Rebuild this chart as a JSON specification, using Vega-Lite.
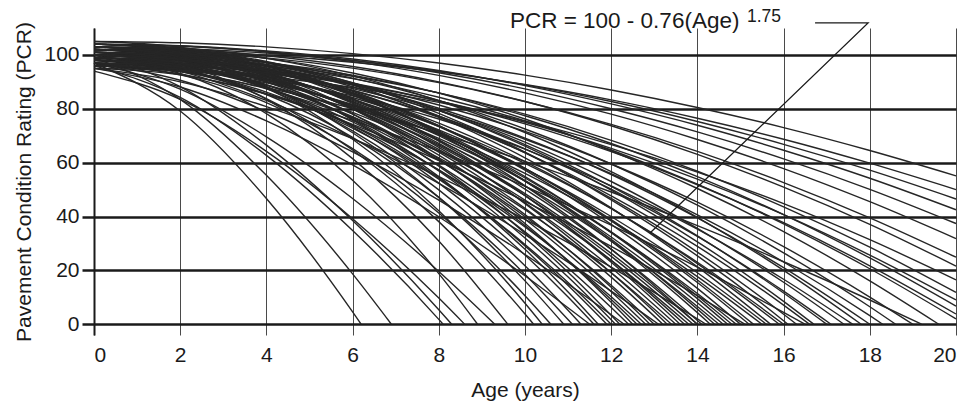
{
  "$schema": "https://vega.github.io/schema/vega-lite/v6.json",
  "width": 862,
  "height": 307,
  "autosize": {"type": "none"},
  "padding": {"left": 94, "top": 28, "right": 22, "bottom": 72},
  "background": "white",
  "config": {
    "view": {"stroke": null},
    "font": "Liberation Sans",
    "axis": {"labelFont": "Liberation Sans", "titleFont": "Liberation Sans", "labelColor": "#1a1a1a", "titleColor": "#1a1a1a", "titleFontWeight": "normal"}
  },
  "datasets": {
    "curves": [
      {"c":1,"t":0,"p":97},{"c":1,"t":2,"p":79.2},{"c":1,"t":4,"p":46.7},{"c":1,"t":6,"p":4.6},{"c":1,"t":6.2,"p":0},
      {"c":2,"t":0,"p":99},{"c":2,"t":2,"p":83.5},{"c":2,"t":4,"p":55.3},{"c":2,"t":6,"p":18.7},{"c":2,"t":6.9,"p":0},
      {"c":3,"t":0,"p":96},{"c":3,"t":2,"p":84.2},{"c":3,"t":4,"p":62.7},{"c":3,"t":6,"p":34.8},{"c":3,"t":8,"p":1.8},{"c":3,"t":8.1,"p":0},
      {"c":4,"t":0,"p":100},{"c":4,"t":2,"p":88.2},{"c":4,"t":4,"p":66.5},{"c":4,"t":6,"p":38.5},{"c":4,"t":8,"p":5.4},{"c":4,"t":8.3,"p":0},
      {"c":5,"t":0,"p":94},{"c":5,"t":2,"p":83.5},{"c":5,"t":4,"p":64.2},{"c":5,"t":6,"p":39.2},{"c":5,"t":8,"p":9.7},{"c":5,"t":8.6,"p":0},
      {"c":6,"t":0,"p":98},{"c":6,"t":2,"p":93.1},{"c":6,"t":4,"p":78.2},{"c":6,"t":6,"p":53.5},{"c":6,"t":8,"p":18.8},{"c":6,"t":8.9,"p":0},
      {"c":7,"t":0,"p":97},{"c":7,"t":2,"p":87.3},{"c":7,"t":4,"p":69.6},{"c":7,"t":6,"p":46.7},{"c":7,"t":8,"p":19.6},{"c":7,"t":9.3,"p":0},
      {"c":8,"t":0,"p":101},{"c":8,"t":2,"p":96.6},{"c":8,"t":4,"p":83.5},{"c":8,"t":6,"p":61.5},{"c":8,"t":8,"p":30.9},{"c":8,"t":9.6,"p":0},
      {"c":9,"t":0,"p":99},{"c":9,"t":2,"p":95.2},{"c":9,"t":4,"p":83.8},{"c":9,"t":6,"p":64.7},{"c":9,"t":8,"p":38.1},{"c":9,"t":10,"p":3.8},{"c":9,"t":10.2,"p":0},
      {"c":10,"t":0,"p":96},{"c":10,"t":2,"p":92.6},{"c":10,"t":4,"p":82.3},{"c":10,"t":6,"p":65.2},{"c":10,"t":8,"p":41.3},{"c":10,"t":10,"p":10.6},{"c":10,"t":10.6,"p":0},
      {"c":11,"t":0,"p":102},{"c":11,"t":2,"p":98.6},{"c":11,"t":4,"p":88.3},{"c":11,"t":6,"p":71.1},{"c":11,"t":8,"p":47.1},{"c":11,"t":10,"p":16.1},{"c":11,"t":10.9,"p":0},
      {"c":12,"t":0,"p":98},{"c":12,"t":2,"p":94.8},{"c":12,"t":4,"p":85.3},{"c":12,"t":6,"p":69.4},{"c":12,"t":8,"p":47.1},{"c":12,"t":10,"p":18.5},{"c":12,"t":11.1,"p":0},
      {"c":13,"t":0,"p":100},{"c":13,"t":2,"p":96.9},{"c":13,"t":4,"p":87.5},{"c":13,"t":6,"p":71.8},{"c":13,"t":8,"p":49.9},{"c":13,"t":10,"p":21.7},{"c":13,"t":11.3,"p":0},
      {"c":14,"t":0,"p":95},{"c":14,"t":2,"p":88.1},{"c":14,"t":4,"p":75.5},{"c":14,"t":6,"p":59.2},{"c":14,"t":8,"p":39.9},{"c":14,"t":10,"p":18},{"c":14,"t":11.5,"p":0},
      {"c":15,"t":0,"p":103},{"c":15,"t":2,"p":100},{"c":15,"t":4,"p":91},{"c":15,"t":6,"p":75.9},{"c":15,"t":8,"p":54.8},{"c":15,"t":10,"p":27.8},{"c":15,"t":11,"p":12},{"c":15,"t":11.7,"p":0},
      {"c":16,"t":0,"p":99},{"c":16,"t":2,"p":96.2},{"c":16,"t":4,"p":87.8},{"c":16,"t":6,"p":73.8},{"c":16,"t":8,"p":54.3},{"c":16,"t":10,"p":29.1},{"c":16,"t":11,"p":14.4},{"c":16,"t":11.9,"p":0},
      {"c":17,"t":0,"p":97},{"c":17,"t":2,"p":94.3},{"c":17,"t":4,"p":86.2},{"c":17,"t":6,"p":72.8},{"c":17,"t":8,"p":53.9},{"c":17,"t":10,"p":29.6},{"c":17,"t":11,"p":15.5},{"c":17,"t":12,"p":0},
      {"c":18,"t":0,"p":101},{"c":18,"t":2,"p":98.2},{"c":18,"t":4,"p":90},{"c":18,"t":6,"p":76.2},{"c":18,"t":8,"p":56.9},{"c":18,"t":10,"p":32},{"c":18,"t":11,"p":17.5},{"c":18,"t":12.1,"p":0},
      {"c":19,"t":0,"p":97},{"c":19,"t":2,"p":90.6},{"c":19,"t":4,"p":79},{"c":19,"t":6,"p":64},{"c":19,"t":8,"p":46.1},{"c":19,"t":10,"p":25.9},{"c":19,"t":12,"p":3.5},{"c":19,"t":12.3,"p":0},
      {"c":20,"t":0,"p":104},{"c":20,"t":2,"p":101.3},{"c":20,"t":4,"p":93.4},{"c":20,"t":6,"p":80},{"c":20,"t":8,"p":61.4},{"c":20,"t":10,"p":37.4},{"c":20,"t":12,"p":8.2},{"c":20,"t":12.5,"p":0},
      {"c":21,"t":0,"p":99},{"c":21,"t":2,"p":96.5},{"c":21,"t":4,"p":89},{"c":21,"t":6,"p":76.5},{"c":21,"t":8,"p":59.1},{"c":21,"t":10,"p":36.6},{"c":21,"t":12,"p":9.2},{"c":21,"t":12.6,"p":0},
      {"c":22,"t":0,"p":95},{"c":22,"t":2,"p":92.6},{"c":22,"t":4,"p":85.6},{"c":22,"t":6,"p":73.8},{"c":22,"t":8,"p":57.3},{"c":22,"t":10,"p":36.1},{"c":22,"t":12,"p":10.2},{"c":22,"t":12.7,"p":0},
      {"c":23,"t":0,"p":102},{"c":23,"t":2,"p":99.6},{"c":23,"t":4,"p":92.2},{"c":23,"t":6,"p":79.9},{"c":23,"t":8,"p":62.8},{"c":23,"t":10,"p":40.7},{"c":23,"t":12,"p":13.7},{"c":23,"t":12.9,"p":0},
      {"c":24,"t":0,"p":98},{"c":24,"t":2,"p":95.7},{"c":24,"t":4,"p":88.7},{"c":24,"t":6,"p":77.1},{"c":24,"t":8,"p":60.9},{"c":24,"t":10,"p":40},{"c":24,"t":12,"p":14.5},{"c":24,"t":13,"p":0},
      {"c":25,"t":0,"p":100},{"c":25,"t":2,"p":94},{"c":25,"t":4,"p":83.1},{"c":25,"t":6,"p":69},{"c":25,"t":8,"p":52.3},{"c":25,"t":10,"p":33.3},{"c":25,"t":12,"p":12.3},{"c":25,"t":13.1,"p":0},
      {"c":26,"t":0,"p":103},{"c":26,"t":2,"p":100.7},{"c":26,"t":4,"p":93.7},{"c":26,"t":6,"p":82},{"c":26,"t":8,"p":65.7},{"c":26,"t":10,"p":44.8},{"c":26,"t":12,"p":19.1},{"c":26,"t":13,"p":4.6},{"c":26,"t":13.3,"p":0},
      {"c":27,"t":0,"p":96},{"c":27,"t":2,"p":93.9},{"c":27,"t":4,"p":87.4},{"c":27,"t":6,"p":76.8},{"c":27,"t":8,"p":61.8},{"c":27,"t":10,"p":42.5},{"c":27,"t":12,"p":19.1},{"c":27,"t":13.4,"p":0},
      {"c":28,"t":0,"p":100},{"c":28,"t":2,"p":97.8},{"c":28,"t":4,"p":91.2},{"c":28,"t":6,"p":80.2},{"c":28,"t":8,"p":64.9},{"c":28,"t":10,"p":45.1},{"c":28,"t":12,"p":21},{"c":28,"t":13.5,"p":0},
      {"c":29,"t":0,"p":102},{"c":29,"t":2,"p":99.8},{"c":29,"t":4,"p":93.3},{"c":29,"t":6,"p":82.4},{"c":29,"t":8,"p":67.2},{"c":29,"t":10,"p":47.7},{"c":29,"t":12,"p":23.7},{"c":29,"t":13.7,"p":0},
      {"c":30,"t":0,"p":97},{"c":30,"t":2,"p":95},{"c":30,"t":4,"p":88.9},{"c":30,"t":6,"p":78.7},{"c":30,"t":8,"p":64.4},{"c":30,"t":10,"p":46.1},{"c":30,"t":12,"p":23.7},{"c":30,"t":13.8,"p":0},
      {"c":31,"t":0,"p":99},{"c":31,"t":2,"p":97},{"c":31,"t":4,"p":90.8},{"c":31,"t":6,"p":80.6},{"c":31,"t":8,"p":66.2},{"c":31,"t":10,"p":47.8},{"c":31,"t":12,"p":25.2},{"c":31,"t":13.9,"p":0},
      {"c":32,"t":0,"p":101},{"c":32,"t":2,"p":99},{"c":32,"t":4,"p":92.9},{"c":32,"t":6,"p":82.7},{"c":32,"t":8,"p":68.5},{"c":32,"t":10,"p":50.2},{"c":32,"t":12,"p":27.8},{"c":32,"t":14,"p":1.4},{"c":32,"t":14.1,"p":0},
      {"c":33,"t":0,"p":95},{"c":33,"t":2,"p":90},{"c":33,"t":4,"p":80.8},{"c":33,"t":6,"p":68.9},{"c":33,"t":8,"p":54.8},{"c":33,"t":10,"p":38.9},{"c":33,"t":12,"p":21.2},{"c":33,"t":14,"p":2},{"c":33,"t":14.2,"p":0},
      {"c":34,"t":0,"p":104},{"c":34,"t":2,"p":102},{"c":34,"t":4,"p":95.9},{"c":34,"t":6,"p":85.7},{"c":34,"t":8,"p":71.4},{"c":34,"t":10,"p":53.1},{"c":34,"t":12,"p":30.8},{"c":34,"t":14,"p":4.3},{"c":34,"t":14.3,"p":0},
      {"c":35,"t":0,"p":98},{"c":35,"t":2,"p":96.1},{"c":35,"t":4,"p":90.5},{"c":35,"t":6,"p":81.2},{"c":35,"t":8,"p":68.2},{"c":35,"t":10,"p":51.4},{"c":35,"t":12,"p":30.9},{"c":35,"t":14,"p":6.6},{"c":35,"t":14.5,"p":0},
      {"c":36,"t":0,"p":100},{"c":36,"t":2,"p":98.1},{"c":36,"t":4,"p":92.5},{"c":36,"t":6,"p":83.1},{"c":36,"t":8,"p":70},{"c":36,"t":10,"p":53.1},{"c":36,"t":12,"p":32.4},{"c":36,"t":14,"p":8},{"c":36,"t":14.6,"p":0},
      {"c":37,"t":0,"p":102},{"c":37,"t":2,"p":100.1},{"c":37,"t":4,"p":94.5},{"c":37,"t":6,"p":85},{"c":37,"t":8,"p":71.8},{"c":37,"t":10,"p":54.8},{"c":37,"t":12,"p":34},{"c":37,"t":14,"p":9.5},{"c":37,"t":14.7,"p":0},
      {"c":38,"t":0,"p":97},{"c":38,"t":2,"p":95.3},{"c":38,"t":4,"p":90},{"c":38,"t":6,"p":81.3},{"c":38,"t":8,"p":69},{"c":38,"t":10,"p":53.3},{"c":38,"t":12,"p":34.1},{"c":38,"t":14,"p":11.4},{"c":38,"t":14.9,"p":0},
      {"c":39,"t":0,"p":103},{"c":39,"t":2,"p":101.2},{"c":39,"t":4,"p":95.7},{"c":39,"t":6,"p":86.5},{"c":39,"t":8,"p":73.7},{"c":39,"t":10,"p":57.2},{"c":39,"t":12,"p":37.1},{"c":39,"t":14,"p":13.3},{"c":39,"t":15,"p":0},
      {"c":40,"t":0,"p":99},{"c":40,"t":2,"p":94.2},{"c":40,"t":4,"p":85.5},{"c":40,"t":6,"p":74.2},{"c":40,"t":8,"p":60.8},{"c":40,"t":10,"p":45.6},{"c":40,"t":12,"p":28.9},{"c":40,"t":14,"p":10.6},{"c":40,"t":15.1,"p":0},
      {"c":41,"t":0,"p":101},{"c":41,"t":2,"p":99.3},{"c":41,"t":4,"p":94.1},{"c":41,"t":6,"p":85.5},{"c":41,"t":8,"p":73.4},{"c":41,"t":10,"p":57.9},{"c":41,"t":12,"p":38.9},{"c":41,"t":14,"p":16.4},{"c":41,"t":15.3,"p":0},
      {"c":42,"t":0,"p":96},{"c":42,"t":2,"p":94.4},{"c":42,"t":4,"p":89.6},{"c":42,"t":6,"p":81.6},{"c":42,"t":8,"p":70.4},{"c":42,"t":10,"p":56},{"c":42,"t":12,"p":38.5},{"c":42,"t":14,"p":17.7},{"c":42,"t":15.5,"p":0},
      {"c":43,"t":0,"p":104},{"c":43,"t":2,"p":102.3},{"c":43,"t":4,"p":97.2},{"c":43,"t":6,"p":88.8},{"c":43,"t":8,"p":77},{"c":43,"t":10,"p":61.8},{"c":43,"t":12,"p":43.2},{"c":43,"t":14,"p":21.3},{"c":43,"t":15.7,"p":0},
      {"c":44,"t":0,"p":100},{"c":44,"t":2,"p":98.4},{"c":44,"t":4,"p":93.7},{"c":44,"t":6,"p":85.8},{"c":44,"t":8,"p":74.7},{"c":44,"t":10,"p":60.4},{"c":44,"t":12,"p":43},{"c":44,"t":14,"p":22.5},{"c":44,"t":15.9,"p":0},
      {"c":45,"t":0,"p":98},{"c":45,"t":2,"p":96.5},{"c":45,"t":4,"p":91.9},{"c":45,"t":6,"p":84.2},{"c":45,"t":8,"p":73.5},{"c":45,"t":10,"p":59.7},{"c":45,"t":12,"p":42.9},{"c":45,"t":14,"p":23},{"c":45,"t":16,"p":0},
      {"c":46,"t":0,"p":102},{"c":46,"t":2,"p":100.5},{"c":46,"t":4,"p":95.9},{"c":46,"t":6,"p":88.2},{"c":46,"t":8,"p":77.4},{"c":46,"t":10,"p":63.6},{"c":46,"t":12,"p":46.7},{"c":46,"t":14,"p":26.8},{"c":46,"t":16,"p":3.7},{"c":46,"t":16.3,"p":0},
      {"c":47,"t":0,"p":97},{"c":47,"t":2,"p":92.9},{"c":47,"t":4,"p":85.4},{"c":47,"t":6,"p":75.7},{"c":47,"t":8,"p":64.3},{"c":47,"t":10,"p":51.2},{"c":47,"t":12,"p":36.8},{"c":47,"t":14,"p":21.2},{"c":47,"t":16,"p":4.4},{"c":47,"t":16.5,"p":0},
      {"c":48,"t":0,"p":103},{"c":48,"t":2,"p":101.5},{"c":48,"t":4,"p":97.1},{"c":48,"t":6,"p":89.7},{"c":48,"t":8,"p":79.4},{"c":48,"t":10,"p":66.1},{"c":48,"t":12,"p":49.8},{"c":48,"t":14,"p":30.6},{"c":48,"t":16,"p":8.5},{"c":48,"t":16.7,"p":0},
      {"c":49,"t":0,"p":99},{"c":49,"t":2,"p":97.6},{"c":49,"t":4,"p":93.6},{"c":49,"t":6,"p":86.8},{"c":49,"t":8,"p":77.3},{"c":49,"t":10,"p":65.1},{"c":49,"t":12,"p":50.2},{"c":49,"t":14,"p":32.6},{"c":49,"t":16,"p":12.3},{"c":49,"t":17.1,"p":0},
      {"c":50,"t":0,"p":101},{"c":50,"t":2,"p":99.7},{"c":50,"t":4,"p":95.7},{"c":50,"t":6,"p":89},{"c":50,"t":8,"p":79.6},{"c":50,"t":10,"p":67.6},{"c":50,"t":12,"p":53},{"c":50,"t":14,"p":35.6},{"c":50,"t":16,"p":15.6},{"c":50,"t":17.4,"p":0},
      {"c":51,"t":0,"p":96},{"c":51,"t":2,"p":94.8},{"c":51,"t":4,"p":91},{"c":51,"t":6,"p":84.8},{"c":51,"t":8,"p":76.2},{"c":51,"t":10,"p":65},{"c":51,"t":12,"p":51.4},{"c":51,"t":14,"p":35.3},{"c":51,"t":16,"p":16.7},{"c":51,"t":17.6,"p":0},
      {"c":52,"t":0,"p":104},{"c":52,"t":2,"p":102.7},{"c":52,"t":4,"p":98.7},{"c":52,"t":6,"p":92.2},{"c":52,"t":8,"p":83},{"c":52,"t":10,"p":71.2},{"c":52,"t":12,"p":56.7},{"c":52,"t":14,"p":39.7},{"c":52,"t":16,"p":20},{"c":52,"t":17.8,"p":0},
      {"c":53,"t":0,"p":100},{"c":53,"t":2,"p":98.8},{"c":53,"t":4,"p":95.1},{"c":53,"t":6,"p":88.9},{"c":53,"t":8,"p":80.2},{"c":53,"t":10,"p":69.1},{"c":53,"t":12,"p":55.6},{"c":53,"t":14,"p":39.5},{"c":53,"t":16,"p":21},{"c":53,"t":18,"p":0},
      {"c":54,"t":0,"p":98},{"c":54,"t":2,"p":96.8},{"c":54,"t":4,"p":93.3},{"c":54,"t":6,"p":87.5},{"c":54,"t":8,"p":79.3},{"c":54,"t":10,"p":68.7},{"c":54,"t":12,"p":55.9},{"c":54,"t":14,"p":40.6},{"c":54,"t":16,"p":23.1},{"c":54,"t":18,"p":3.2},{"c":54,"t":18.3,"p":0},
      {"c":55,"t":0,"p":102},{"c":55,"t":2,"p":100.8},{"c":55,"t":4,"p":97.3},{"c":55,"t":6,"p":91.4},{"c":55,"t":8,"p":83.1},{"c":55,"t":10,"p":72.5},{"c":55,"t":12,"p":59.5},{"c":55,"t":14,"p":44.2},{"c":55,"t":16,"p":26.5},{"c":55,"t":18,"p":6.5},{"c":55,"t":18.6,"p":0},
      {"c":56,"t":0,"p":99},{"c":56,"t":2,"p":97.9},{"c":56,"t":4,"p":94.6},{"c":56,"t":6,"p":89.1},{"c":56,"t":8,"p":81.4},{"c":56,"t":10,"p":71.6},{"c":56,"t":12,"p":59.5},{"c":56,"t":14,"p":45.3},{"c":56,"t":16,"p":28.8},{"c":56,"t":18,"p":10.1},{"c":56,"t":19,"p":0},
      {"c":57,"t":0,"p":97},{"c":57,"t":2,"p":93.7},{"c":57,"t":4,"p":87.8},{"c":57,"t":6,"p":80.1},{"c":57,"t":8,"p":70.9},{"c":57,"t":10,"p":60.5},{"c":57,"t":12,"p":49.1},{"c":57,"t":14,"p":36.6},{"c":57,"t":16,"p":23.2},{"c":57,"t":18,"p":9},{"c":57,"t":19.2,"p":0},
      {"c":58,"t":0,"p":103},{"c":58,"t":2,"p":101.9},{"c":58,"t":4,"p":98.7},{"c":58,"t":6,"p":93.3},{"c":58,"t":8,"p":85.8},{"c":58,"t":10,"p":76.2},{"c":58,"t":12,"p":64.4},{"c":58,"t":14,"p":50.4},{"c":58,"t":16,"p":34.4},{"c":58,"t":18,"p":16.1},{"c":58,"t":19.6,"p":0},
      {"c":59,"t":0,"p":100},{"c":59,"t":2,"p":99},{"c":59,"t":4,"p":96.1},{"c":59,"t":6,"p":91.2},{"c":59,"t":8,"p":84.3},{"c":59,"t":10,"p":75.5},{"c":59,"t":12,"p":64.7},{"c":59,"t":14,"p":52},{"c":59,"t":16,"p":37.3},{"c":59,"t":18,"p":20.6},{"c":59,"t":20,"p":2},
      {"c":60,"t":0,"p":98},{"c":60,"t":2,"p":97.1},{"c":60,"t":4,"p":94.2},{"c":60,"t":6,"p":89.5},{"c":60,"t":8,"p":82.9},{"c":60,"t":10,"p":74.4},{"c":60,"t":12,"p":64.1},{"c":60,"t":14,"p":51.8},{"c":60,"t":16,"p":37.7},{"c":60,"t":18,"p":21.7},{"c":60,"t":20,"p":3.8},
      {"c":61,"t":0,"p":101},{"c":61,"t":2,"p":100.1},{"c":61,"t":4,"p":97.2},{"c":61,"t":6,"p":92.5},{"c":61,"t":8,"p":85.9},{"c":61,"t":10,"p":77.4},{"c":61,"t":12,"p":67.1},{"c":61,"t":14,"p":54.8},{"c":61,"t":16,"p":40.7},{"c":61,"t":18,"p":24.6},{"c":61,"t":20,"p":6.7},
      {"c":62,"t":0,"p":97},{"c":62,"t":2,"p":96.1},{"c":62,"t":4,"p":93.5},{"c":62,"t":6,"p":89.1},{"c":62,"t":8,"p":82.9},{"c":62,"t":10,"p":75},{"c":62,"t":12,"p":65.3},{"c":62,"t":14,"p":53.9},{"c":62,"t":16,"p":40.7},{"c":62,"t":18,"p":25.7},{"c":62,"t":20,"p":9},
      {"c":63,"t":0,"p":100},{"c":63,"t":2,"p":99.1},{"c":63,"t":4,"p":96.5},{"c":63,"t":6,"p":92.1},{"c":63,"t":8,"p":85.9},{"c":63,"t":10,"p":78},{"c":63,"t":12,"p":68.3},{"c":63,"t":14,"p":56.8},{"c":63,"t":16,"p":43.6},{"c":63,"t":18,"p":28.6},{"c":63,"t":20,"p":11.8},
      {"c":64,"t":0,"p":95},{"c":64,"t":2,"p":94.2},{"c":64,"t":4,"p":91.9},{"c":64,"t":6,"p":87.9},{"c":64,"t":8,"p":82.4},{"c":64,"t":10,"p":75.4},{"c":64,"t":12,"p":66.7},{"c":64,"t":14,"p":56.5},{"c":64,"t":16,"p":44.8},{"c":64,"t":18,"p":31.4},{"c":64,"t":20,"p":16.5},
      {"c":65,"t":0,"p":103},{"c":65,"t":2,"p":102.2},{"c":65,"t":4,"p":99.7},{"c":65,"t":6,"p":95.7},{"c":65,"t":8,"p":90},{"c":65,"t":10,"p":82.7},{"c":65,"t":12,"p":73.7},{"c":65,"t":14,"p":63.1},{"c":65,"t":16,"p":50.9},{"c":65,"t":18,"p":37.1},{"c":65,"t":20,"p":21.6},
      {"c":66,"t":0,"p":102},{"c":66,"t":2,"p":101.2},{"c":66,"t":4,"p":98.9},{"c":66,"t":6,"p":95.1},{"c":66,"t":8,"p":89.7},{"c":66,"t":10,"p":82.7},{"c":66,"t":12,"p":74.2},{"c":66,"t":14,"p":64.2},{"c":66,"t":16,"p":52.6},{"c":66,"t":18,"p":39.5},{"c":66,"t":20,"p":24.9},
      {"c":67,"t":0,"p":104},{"c":67,"t":2,"p":103.3},{"c":67,"t":4,"p":101.1},{"c":67,"t":6,"p":97.5},{"c":67,"t":8,"p":92.4},{"c":67,"t":10,"p":85.9},{"c":67,"t":12,"p":78},{"c":67,"t":14,"p":68.6},{"c":67,"t":16,"p":57.8},{"c":67,"t":18,"p":45.5},{"c":67,"t":20,"p":31.8},
      {"c":68,"t":0,"p":104},{"c":68,"t":2,"p":103.3},{"c":68,"t":4,"p":101.3},{"c":68,"t":6,"p":98},{"c":68,"t":8,"p":93.4},{"c":68,"t":10,"p":87.4},{"c":68,"t":12,"p":80},{"c":68,"t":14,"p":71.4},{"c":68,"t":16,"p":61.4},{"c":68,"t":18,"p":50.1},{"c":68,"t":20,"p":37.4},
      {"c":69,"t":0,"p":104},{"c":69,"t":2,"p":103.4},{"c":69,"t":4,"p":101.5},{"c":69,"t":6,"p":98.5},{"c":69,"t":8,"p":94.2},{"c":69,"t":10,"p":88.6},{"c":69,"t":12,"p":81.8},{"c":69,"t":14,"p":73.9},{"c":69,"t":16,"p":64.6},{"c":69,"t":18,"p":54.2},{"c":69,"t":20,"p":42.5},
      {"c":70,"t":0,"p":103},{"c":70,"t":2,"p":102.4},{"c":70,"t":4,"p":100.7},{"c":70,"t":6,"p":97.9},{"c":70,"t":8,"p":94},{"c":70,"t":10,"p":88.9},{"c":70,"t":12,"p":82.7},{"c":70,"t":14,"p":75.3},{"c":70,"t":16,"p":66.8},{"c":70,"t":18,"p":57.2},{"c":70,"t":20,"p":46.5},
      {"c":71,"t":0,"p":102},{"c":71,"t":2,"p":101.5},{"c":71,"t":4,"p":99.9},{"c":71,"t":6,"p":97.3},{"c":71,"t":8,"p":93.7},{"c":71,"t":10,"p":89},{"c":71,"t":12,"p":83.3},{"c":71,"t":14,"p":76.5},{"c":71,"t":16,"p":68.7},{"c":71,"t":18,"p":59.8},{"c":71,"t":20,"p":50},
      {"c":72,"t":0,"p":105},{"c":72,"t":2,"p":104.5},{"c":72,"t":4,"p":103},{"c":72,"t":6,"p":100.5},{"c":72,"t":8,"p":97},{"c":72,"t":10,"p":92.5},{"c":72,"t":12,"p":87},{"c":72,"t":14,"p":80.5},{"c":72,"t":16,"p":73},{"c":72,"t":18,"p":64.5},{"c":72,"t":20,"p":55.1},
      {"c":73,"t":0,"p":103},{"c":73,"t":2,"p":100.2},{"c":73,"t":4,"p":91.9},{"c":73,"t":6,"p":78.1},{"c":73,"t":8,"p":58.7},{"c":73,"t":10,"p":33.8},{"c":73,"t":11,"p":19.3},{"c":73,"t":12.2,"p":0},
      {"c":74,"t":0,"p":100},{"c":74,"t":2,"p":97.6},{"c":74,"t":4,"p":90.2},{"c":74,"t":6,"p":78},{"c":74,"t":8,"p":60.9},{"c":74,"t":10,"p":39},{"c":74,"t":12,"p":12.1},{"c":74,"t":12.8,"p":0},
      {"c":75,"t":0,"p":101},{"c":75,"t":2,"p":98.7},{"c":75,"t":4,"p":91.7},{"c":75,"t":6,"p":80.1},{"c":75,"t":8,"p":63.9},{"c":75,"t":10,"p":43},{"c":75,"t":12,"p":17.5},{"c":75,"t":13.2,"p":0},
      {"c":76,"t":0,"p":104},{"c":76,"t":2,"p":101.8},{"c":76,"t":4,"p":95},{"c":76,"t":6,"p":83.8},{"c":76,"t":8,"p":68},{"c":76,"t":10,"p":47.8},{"c":76,"t":12,"p":23},{"c":76,"t":13.6,"p":0},
      {"c":77,"t":0,"p":99},{"c":77,"t":2,"p":97},{"c":77,"t":4,"p":90.9},{"c":77,"t":6,"p":80.8},{"c":77,"t":8,"p":66.7},{"c":77,"t":10,"p":48.5},{"c":77,"t":12,"p":26.3},{"c":77,"t":14,"p":0},
      {"c":78,"t":0,"p":103},{"c":78,"t":2,"p":101},{"c":78,"t":4,"p":95.1},{"c":78,"t":6,"p":85.1},{"c":78,"t":8,"p":71.2},{"c":78,"t":10,"p":53.3},{"c":78,"t":12,"p":31.5},{"c":78,"t":14,"p":5.6},{"c":78,"t":14.4,"p":0},
      {"c":79,"t":0,"p":100},{"c":79,"t":2,"p":98.2},{"c":79,"t":4,"p":92.7},{"c":79,"t":6,"p":83.6},{"c":79,"t":8,"p":70.8},{"c":79,"t":10,"p":54.3},{"c":79,"t":12,"p":34.3},{"c":79,"t":14,"p":10.5},{"c":79,"t":14.8,"p":0},
      {"c":80,"t":0,"p":102},{"c":80,"t":2,"p":100.2},{"c":80,"t":4,"p":94.9},{"c":80,"t":6,"p":86.1},{"c":80,"t":8,"p":73.7},{"c":80,"t":10,"p":57.9},{"c":80,"t":12,"p":38.4},{"c":80,"t":14,"p":15.5},{"c":80,"t":15.2,"p":0},
      {"c":81,"t":0,"p":98},{"c":81,"t":2,"p":96.4},{"c":81,"t":4,"p":91.6},{"c":81,"t":6,"p":83.5},{"c":81,"t":8,"p":72.2},{"c":81,"t":10,"p":57.7},{"c":81,"t":12,"p":40},{"c":81,"t":14,"p":19.1},{"c":81,"t":15.6,"p":0},
      {"c":82,"t":0,"p":104},{"c":82,"t":2,"p":102.4},{"c":82,"t":4,"p":97.6},{"c":82,"t":6,"p":89.6},{"c":82,"t":8,"p":78.3},{"c":82,"t":10,"p":63.9},{"c":82,"t":12,"p":46.2},{"c":82,"t":14,"p":25.4},{"c":82,"t":16,"p":1.3},{"c":82,"t":16.1,"p":0},
      {"c":83,"t":0,"p":100},{"c":83,"t":2,"p":98.5},{"c":83,"t":4,"p":94.2},{"c":83,"t":6,"p":86.9},{"c":83,"t":8,"p":76.8},{"c":83,"t":10,"p":63.7},{"c":83,"t":12,"p":47.7},{"c":83,"t":14,"p":28.9},{"c":83,"t":16,"p":7.1},{"c":83,"t":16.6,"p":0},
      {"c":84,"t":0,"p":102},{"c":84,"t":2,"p":100.6},{"c":84,"t":4,"p":96.3},{"c":84,"t":6,"p":89.3},{"c":84,"t":8,"p":79.4},{"c":84,"t":10,"p":66.7},{"c":84,"t":12,"p":51.2},{"c":84,"t":14,"p":32.8},{"c":84,"t":16,"p":11.6},{"c":84,"t":17,"p":0},
      {"c":85,"t":0,"p":100},{"c":85,"t":2,"p":97},{"c":85,"t":4,"p":88.1},{"c":85,"t":6,"p":73.3},{"c":85,"t":8,"p":52.4},{"c":85,"t":10,"p":25.7},{"c":85,"t":11,"p":10.1},{"c":85,"t":11.6,"p":0},
      {"c":86,"t":0,"p":103},{"c":86,"t":2,"p":99.2},{"c":86,"t":4,"p":87.8},{"c":86,"t":6,"p":68.7},{"c":86,"t":8,"p":42.1},{"c":86,"t":10,"p":7.8},{"c":86,"t":10.4,"p":0},
      {"c":87,"t":0,"p":105},{"c":87,"t":2,"p":102.9},{"c":87,"t":4,"p":96.4},{"c":87,"t":6,"p":85.7},{"c":87,"t":8,"p":70.7},{"c":87,"t":10,"p":51.4},{"c":87,"t":12,"p":27.9},{"c":87,"t":14,"p":0},
      {"c":88,"t":0,"p":98},{"c":88,"t":2,"p":95.5},{"c":88,"t":4,"p":87.8},{"c":88,"t":6,"p":75.1},{"c":88,"t":8,"p":57.2},{"c":88,"t":10,"p":34.3},{"c":88,"t":12,"p":6.2},{"c":88,"t":12.4,"p":0}
    ],
    "leader": [
      {"o":1,"t":16.73,"p":111.9},
      {"o":2,"t":17.96,"p":111.9},
      {"o":3,"t":12.9,"p":33.9}
    ],
    "eq": [{"t":9.65,"p":110,"label":"PCR = 100 - 0.76(Age)"}],
    "sup": [{"t":15.15,"p":112.2,"label":"1.75"}]
  },
  "encoding": {
    "x": {
      "field": "t", "type": "quantitative",
      "scale": {"domain": [0, 20], "nice": false, "zero": false},
      "axis": {
        "title": "Age (years)", "values": [0,2,4,6,8,10,12,14,16,18,20],
        "grid": true, "gridColor": "#4a4a4a", "gridWidth": 1,
        "domain": false, "ticks": false,
        "labelFontSize": 21, "labelPadding": 9, "titleFontSize": 21, "titlePadding": 14
      }
    },
    "y": {
      "field": "p", "type": "quantitative",
      "scale": {"domain": [-4, 110], "nice": false, "zero": false},
      "axis": {
        "title": "Pavement Condition Rating (PCR)", "values": [0,20,40,60,80,100],
        "grid": true, "gridColor": "#1a1a1a", "gridWidth": 2.5,
        "domain": true, "domainColor": "#1a1a1a", "domainWidth": 2,
        "ticks": true, "tickSize": 12, "tickWidth": 2.5, "tickColor": "#1a1a1a",
        "labelFontSize": 21, "labelPadding": 3, "titleFontSize": 21, "titlePadding": 9
      }
    }
  },
  "layer": [
    {
      "data": {"name": "curves"},
      "mark": {"type": "line", "interpolate": "monotone", "strokeWidth": 1.4, "color": "#262626"},
      "encoding": {"detail": {"field": "c", "type": "nominal"}}
    },
    {
      "data": {"name": "leader"},
      "mark": {"type": "line", "strokeWidth": 1.3, "color": "#1a1a1a"},
      "encoding": {"order": {"field": "o", "type": "quantitative"}}
    },
    {
      "data": {"name": "eq"},
      "mark": {"type": "text", "align": "left", "baseline": "alphabetic", "fontSize": 22.5, "color": "#1a1a1a", "font": "Liberation Sans"},
      "encoding": {"text": {"field": "label"}}
    },
    {
      "data": {"name": "sup"},
      "mark": {"type": "text", "align": "left", "baseline": "alphabetic", "fontSize": 17.5, "color": "#1a1a1a", "font": "Liberation Sans"},
      "encoding": {"text": {"field": "label"}}
    }
  ]
}
